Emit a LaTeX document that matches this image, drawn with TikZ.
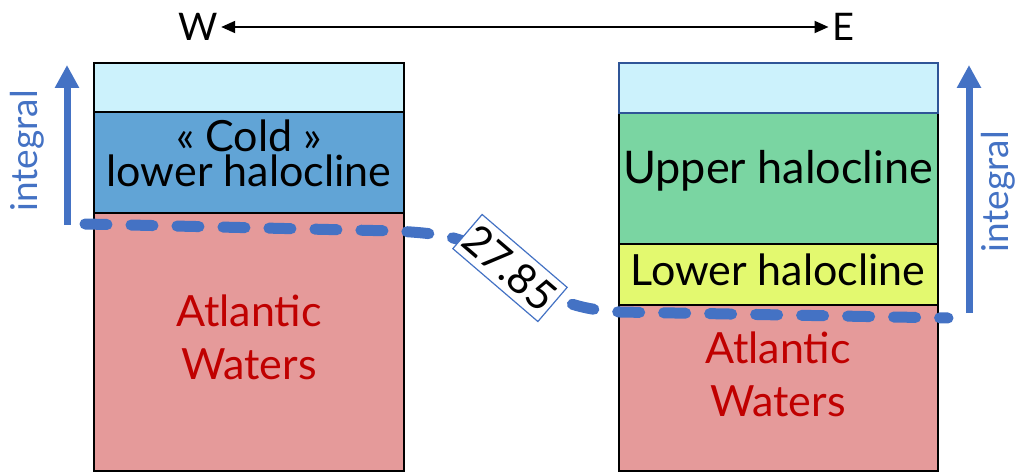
\documentclass[tikz,border=0pt]{standalone}
\usepackage{fontspec}
\setmainfont{Lato}
\usetikzlibrary{arrows.meta}
\definecolor{surf}{HTML}{CCF2FC}
\definecolor{coldhc}{HTML}{61A4D6}
\definecolor{atl}{HTML}{E59A9A}
\definecolor{upperhc}{HTML}{7AD5A2}
\definecolor{lowerhc}{HTML}{E3F96F}
\definecolor{iso}{HTML}{4472C4}
\definecolor{atltext}{HTML}{C00000}
\definecolor{topedge}{HTML}{2F5597}
\tikzset{
  layer/.style={draw=black, line width=2.2pt},
  lbl/.style={font=\fontsize{43}{35}\selectfont, align=center, text=black},
  atlab/.style={font=\fontsize{43}{53}\selectfont, align=center, text=atltext},
  isoline/.style={iso, line width=11pt, line cap=round, dash pattern=on 22pt off 24pt},
  intarrow/.style={iso, line width=7pt, -{Triangle[width=23pt,length=23pt]}},
  inttext/.style={text=iso, font=\fontsize{37}{37}\selectfont, rotate=90},
  sigbox/.style={draw=iso, fill=white, line width=1.2pt, rotate=-40.6,
    minimum width=112pt, minimum height=45pt, inner sep=0pt,
    font=\fontsize{42}{42}\selectfont},
}
\begin{document}
\begin{tikzpicture}[x=1pt,y=-1pt]
\useasboundingbox (0,0) rectangle (1018,473);
% west column
\filldraw[layer, fill=atl] (94,213) rectangle (404,471);
\filldraw[layer, fill=coldhc] (94,112) rectangle (404,213);
\filldraw[layer, fill=surf] (94,63) rectangle (404,112);
% east column
\filldraw[layer, fill=atl] (619,305) rectangle (938,471);
\filldraw[layer, fill=lowerhc] (619,244) rectangle (938,305);
\filldraw[layer, fill=upperhc] (619,113) rectangle (938,244);
\filldraw[layer, draw=topedge, fill=surf] (619,63) rectangle (938,113);
% layer names
\node[lbl] (cold) at (249,153) {« Cold »\\lower halocline};
\node[lbl, font=\fontsize{45}{45}\selectfont] (upper) at (778,171) {Upper halocline};
\node[lbl] (lower) at (778,270) {Lower halocline};
\node[atlab] (atlw) at (249,337) {Atlantic\\Waters};
\node[atlab] (atle) at (778,374) {Atlantic\\Waters};
% W--E axis
\node[font=\fontsize{38}{38}\selectfont] (W) at (198,27) {W};
\node[font=\fontsize{38}{38}\selectfont] (E) at (843,27) {E};
\draw[line width=2pt, {Triangle[width=12pt,length=14pt]}-{Triangle[width=12pt,length=14pt]}] (W) -- (E);
% isopycnal 27.85
\coordinate (i0) at (85,224);
\coordinate (i1) at (395,231);
\coordinate (sigc) at (510,268);
\coordinate (i2) at (620,312);
\coordinate (i3) at (948,318);
\draw[isoline] (i0) -- (i1) .. controls (450,234) and (470,238) .. (sigc) .. controls (550,298) and (570,309) .. (i2) -- (i3);
\node[sigbox] (sig) at (sigc) {27.85};
% integration arrows
\coordinate (lw0) at (67,225);
\coordinate (lw1) at (67,65);
\draw[intarrow] (lw0) -- (lw1);
\node[inttext] (lwt) at (27,151) {integral};
\coordinate (le0) at (969,313);
\coordinate (le1) at (969,65);
\draw[intarrow] (le0) -- (le1);
\node[inttext] (let) at (998,192) {integral};
\end{tikzpicture}
\end{document}
